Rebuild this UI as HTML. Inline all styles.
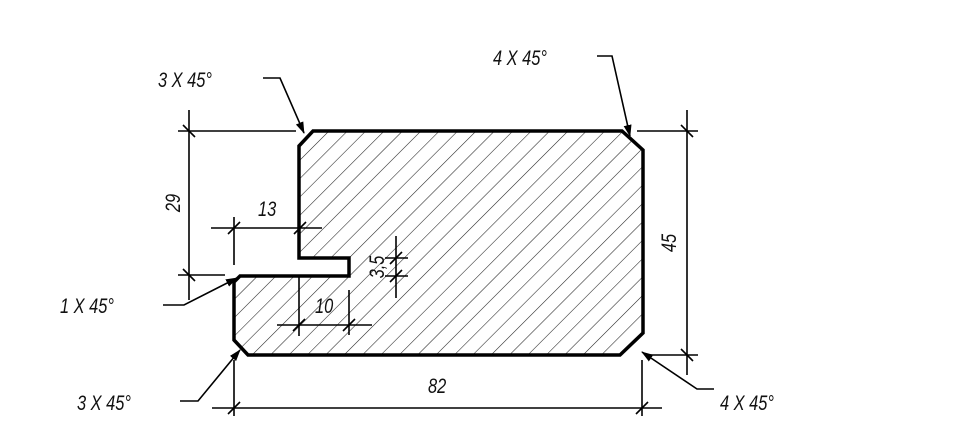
<!DOCTYPE html>
<html><head><meta charset="utf-8"><style>
html,body{margin:0;padding:0;background:#fff;}
svg{display:block;}
text{font-family:"Liberation Sans",sans-serif;font-style:italic;font-size:20px;fill:#111;}
</style></head><body>
<svg width="961" height="440" viewBox="0 0 961 440" xmlns="http://www.w3.org/2000/svg">
<defs>
<pattern id="h" patternUnits="userSpaceOnUse" width="13" height="13" patternTransform="rotate(45)">
<line x1="0" y1="0" x2="0" y2="13" stroke="#222" stroke-width="1.1"/>
</pattern>
<marker id="a" markerWidth="12" markerHeight="8" refX="11" refY="4" orient="auto" markerUnits="userSpaceOnUse">
<path d="M0,0 L12,4 L0,8 z" fill="#000"/>
</marker>
</defs>
<path d="M313,131 L622,131 L643,150 L643,333 L620,355 L248,355 L234,340 L234,282 L240,276 L349,276 L349,258 L299,258 L299,146 Z" fill="url(#h)" stroke="#000" stroke-width="3.5" stroke-linejoin="miter"/>
<g stroke="#000" stroke-width="1.6" fill="none">
<line x1="687" y1="110" x2="687" y2="375"/>
<line x1="637" y1="131" x2="698" y2="131"/>
<line x1="648" y1="355" x2="698" y2="355"/>
<line x1="681" y1="125" x2="693" y2="137"/><line x1="681" y1="349" x2="693" y2="361"/>
<line x1="189" y1="110" x2="189" y2="300"/>
<line x1="178" y1="131" x2="296" y2="131"/>
<line x1="178" y1="275" x2="225" y2="275"/>
<line x1="183" y1="125" x2="195" y2="137"/><line x1="183" y1="269" x2="195" y2="281"/>
<line x1="212" y1="408" x2="662" y2="408"/>
<line x1="234" y1="360" x2="234" y2="416"/>
<line x1="642" y1="360" x2="642" y2="416"/>
<line x1="228" y1="414" x2="240" y2="402"/><line x1="636" y1="414" x2="648" y2="402"/>
<line x1="211" y1="228" x2="322" y2="228"/>
<line x1="234" y1="217" x2="234" y2="265"/>
<line x1="228" y1="234" x2="240" y2="222"/><line x1="294" y1="234" x2="306" y2="222"/>
<line x1="277" y1="325" x2="372" y2="325"/>
<line x1="299" y1="275" x2="299" y2="336"/>
<line x1="349" y1="290" x2="349" y2="335"/>
<line x1="293" y1="331" x2="305" y2="319"/><line x1="343" y1="331" x2="355" y2="319"/>
<line x1="396" y1="236" x2="396" y2="298"/>
<line x1="385" y1="258" x2="408" y2="258"/>
<line x1="385" y1="276" x2="408" y2="276"/>
<line x1="390" y1="264" x2="402" y2="252"/><line x1="390" y1="282" x2="402" y2="270"/>
<polyline points="263,78 280,78 304,133" marker-end="url(#a)"/>
<polyline points="597,56 612,56 630,136" marker-end="url(#a)"/>
<polyline points="163,305 184,305 237,278" marker-end="url(#a)"/>
<polyline points="180,401 198,401 240,350" marker-end="url(#a)"/>
<polyline points="714,389 697,389 642,352" marker-end="url(#a)"/>
</g>
<text transform="translate(158,87) scale(0.82,1.05)">3 X 45°</text>
<text transform="translate(493,65) scale(0.82,1.05)">4 X 45°</text>
<text transform="translate(60,313) scale(0.82,1.05)">1 X 45°</text>
<text transform="translate(77,410) scale(0.82,1.05)">3 X 45°</text>
<text transform="translate(720,410) scale(0.82,1.05)">4 X 45°</text>
<text transform="translate(428,393) scale(0.82,1.05)">82</text>
<text transform="translate(258,216) scale(0.82,1.05)">13</text>
<text transform="translate(315,313) scale(0.82,1.05)">10</text>
<text transform="translate(180,203) rotate(-90) scale(0.82,1.05)" text-anchor="middle">29</text>
<text transform="translate(676,243) rotate(-90) scale(0.82,1.05)" text-anchor="middle">45</text>
<text transform="translate(384,267) rotate(-90) scale(0.82,1.05)" text-anchor="middle">3,5</text>
</svg>
</body></html>
